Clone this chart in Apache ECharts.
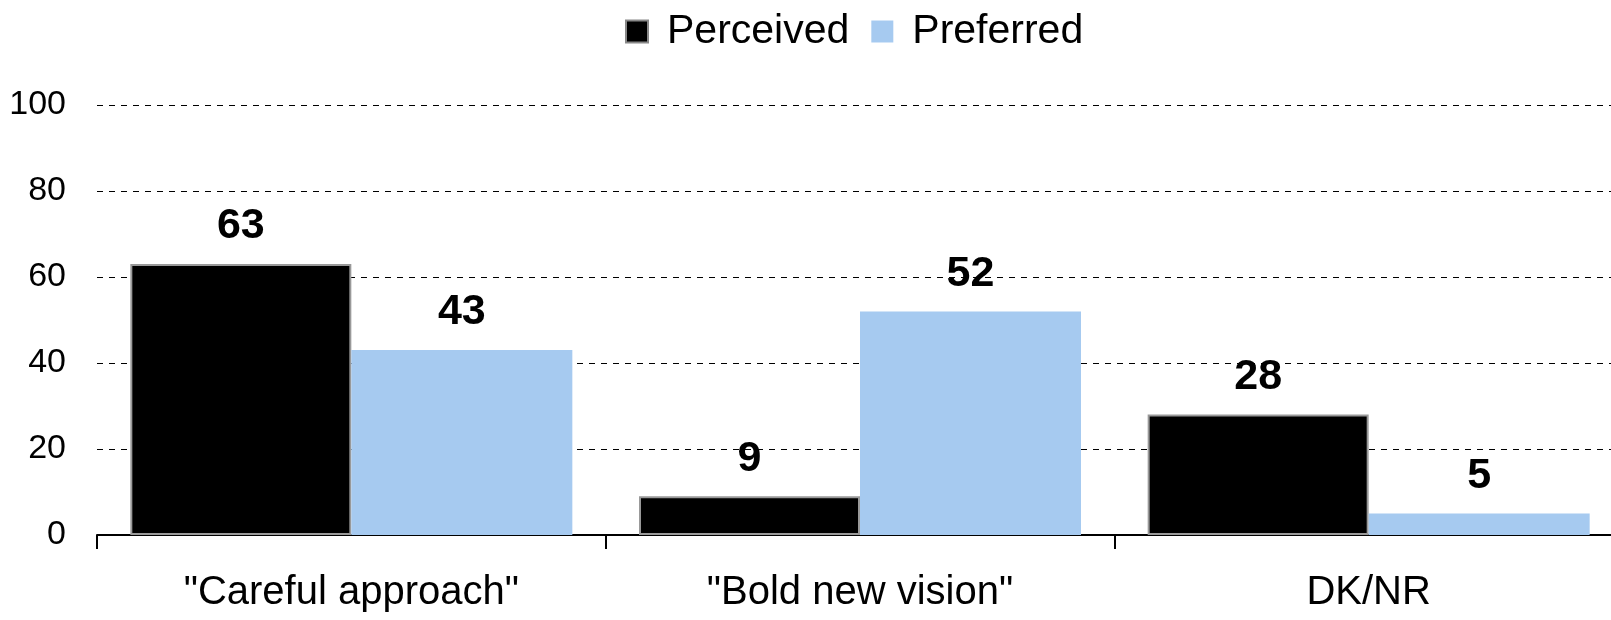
<!DOCTYPE html>
<html lang="en">
<head>
    <meta charset="UTF-8">
    <title>Perceived vs Preferred</title>
    <script src="https://cdn.jsdelivr.net/npm/echarts@6/dist/echarts.min.js"></script>
</head>
<body style="margin:0;">
<div id="mybox" style="height: 620px;width: 1611px;"></div>
<script>
    // data
    var categories = ['"Careful approach"', '"Bold new vision"', 'DK/NR'];
    var perceived = [63, 9, 28];
    var preferred = [43, 52, 5];
    var yTicks = [0, 20, 40, 60, 80, 100];

    var font = 'Liberation Sans, Arial, sans-serif';
    var labelStyle = {
        show: true,
        position: 'top',
        distance: 16,
        color: '#000',
        fontSize: 43,
        fontWeight: 'bold',
        fontFamily: font
    };

    var mychart = echarts.init(document.getElementById('mybox'));
    mychart.setOption({
        animation: false,
        legend: {
            left: 620,
            top: 6,
            itemWidth: 22,
            itemHeight: 22,
            itemGap: 22,
            textStyle: {
                fontSize: 41,
                fontFamily: font,
                color: '#000',
                padding: [0, 0, 0, 14]
            },
            data: [
                {name: 'Perceived', icon: 'rect', itemStyle: {color: '#000', borderColor: '#888', borderWidth: 2}},
                {name: 'Preferred', icon: 'rect', itemStyle: {color: '#A6CAF0', borderWidth: 0}}
            ]
        },
        grid: {
            left: 97,
            width: 1526,
            top: 105,
            bottom: 85,
            outerBoundsMode: 'none'
        },
        xAxis: {
            type: 'category',
            data: categories,
            axisLine: {lineStyle: {color: '#000', width: 2}},
            axisTick: {show: true, length: 14, lineStyle: {color: '#000', width: 2}},
            axisLabel: {
                fontSize: 40,
                fontFamily: font,
                color: '#000',
                margin: 38
            }
        },
        yAxis: {
            type: 'value',
            min: yTicks[0],
            max: yTicks[yTicks.length - 1],
            interval: 20,
            axisLine: {show: false},
            axisTick: {show: false},
            axisLabel: {
                fontSize: 34,
                fontFamily: font,
                color: '#000',
                margin: 31
            },
            splitLine: {lineStyle: {color: '#000', width: 1, type: [6, 6]}}
        },
        series: [{
            name: 'Perceived',
            type: 'bar',
            data: perceived,
            barWidth: 221,
            barGap: '0%',
            itemStyle: {color: '#000', borderColor: '#999', borderWidth: 2},
            label: labelStyle
        }, {
            name: 'Preferred',
            type: 'bar',
            data: preferred,
            barWidth: 221,
            barGap: '0%',
            itemStyle: {color: '#A6CAF0'},
            label: labelStyle
        }]
    });
</script>
</body>
</html>
